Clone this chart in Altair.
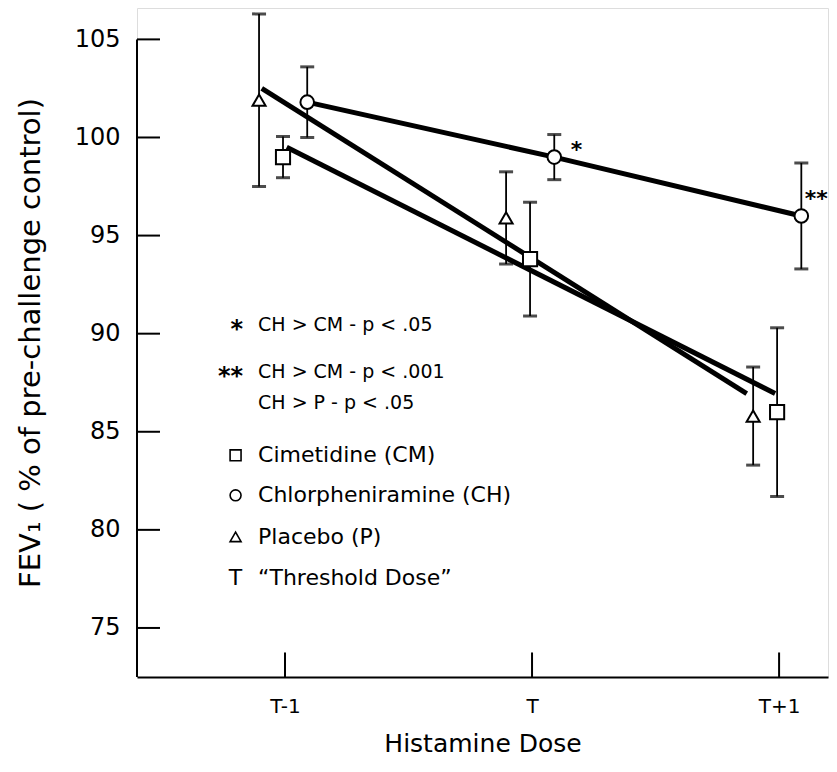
import altair as alt
import pandas as pd

# ---------------- data ----------------
doses = ["T-1", "T", "T+1"]
dose_pos = [0, 1, 2]

treatments = ["Cimetidine (CM)", "Chlorpheniramine (CH)", "Placebo (P)"]
shapes = ["square", "circle", "triangle-up"]
marker_sizes = [200, 170, 330]
x_offsets = [-0.008, 0.09, -0.105]

cim_mean = [99.0, 93.8, 86.0]
cim_err = [1.05, 2.9, 4.3]
chl_mean = [101.8, 99.0, 96.0]
chl_err = [1.8, 1.15, 2.7]
pla_mean = [101.9, 95.9, 85.8]
pla_err = [4.4, 2.35, 2.5]

# straight trend lines drawn for CM and P (start, end)
cim_line_x = [0.007, 1.984]
cim_line_y = [99.5, 86.95]
pla_line_x = [-0.094, 1.869]
pla_line_y = [102.5, 86.95]

# significance stars
star_text = ["*", "**"]
star_x = [1.18, 2.15]
star_y = [99.6, 97.1]

# key / notes
note_stars = ["*", "**"]
note_stars_y = [90.43, 88.05]
note_text = ["CH > CM - p < .05", "CH > CM - p < .001", "CH > P - p < .05",
             "Cimetidine  (CM)", "Chlorpheniramine  (CH)", "Placebo  (P)",
             "\u201cThreshold Dose\u201d"]
note_y = [90.43, 88.05, 86.45, 83.80, 81.76, 79.64, 77.53]
note_size = [19, 19, 19, 22, 22, 22, 22]
key_symbol_y = [83.80, 81.76, 79.64]
key_T_y = [77.53]

y_ticks = [75, 80, 85, 90, 95, 100, 105]
x_domain = [-0.599, 2.198]
y_domain = [72.5, 106.6]
FONT = "DejaVu Sans"

# ---------------- tables ----------------
means = [cim_mean, chl_mean, pla_mean]
errs = [cim_err, chl_err, pla_err]
rows = []
for t, off, m, e in zip(treatments, x_offsets, means, errs):
    for d, p, mv, ev in zip(doses, dose_pos, m, e):
        rows.append({"treatment": t, "dose": d, "x": p + off, "mean": mv,
                     "lo": mv - ev, "hi": mv + ev})
pts = pd.DataFrame(rows)

line_rows = []
for p, m in zip(dose_pos, chl_mean):
    line_rows.append({"series": "CH", "x": p + x_offsets[1], "y": m})
for xv, yv in zip(cim_line_x, cim_line_y):
    line_rows.append({"series": "CM", "x": xv, "y": yv})
for xv, yv in zip(pla_line_x, pla_line_y):
    line_rows.append({"series": "P", "x": xv, "y": yv})
lines_df = pd.DataFrame(line_rows)

xs = alt.Scale(domain=x_domain, nice=False, zero=False)
ys = alt.Scale(domain=y_domain, nice=False, zero=False)
shape_scale = alt.Scale(domain=treatments, range=shapes)
size_scale = alt.Scale(domain=treatments, range=marker_sizes)

label_expr = " : ".join(
    [f"datum.value == {p} ? '{d}'" for p, d in zip(dose_pos[:-1], doses[:-1])]
) + f" : '{doses[-1]}'"

x_axis = alt.Axis(values=dose_pos, labelExpr=label_expr, ticks=False, tickSize=0,
                  grid=False, domainColor="black", domainWidth=2,
                  labelFontSize=20, labelFont=FONT, labelColor="black",
                  labelBaseline="middle", labelPadding=29,
                  title="Histamine Dose", titleFontSize=25, titleFont=FONT,
                  titleFontWeight="normal", titleColor="black",
                  titleBaseline="middle", titleY=66)
y_axis = alt.Axis(values=y_ticks, ticks=False, tickSize=0, domain=False, grid=False,
                  labelFontSize=24, labelFont=FONT, labelColor="black",
                  labelPadding=17,
                  title="FEV\u2081 ( % of pre-challenge control)",
                  titleFontSize=29, titleFont=FONT, titleFontWeight="normal",
                  titleColor="black", titleAngle=-90, titleBaseline="middle",
                  titleAlign="center", titleX=-107, titleY=334.5)

base_lines = alt.Chart(lines_df).mark_line(color="black", strokeWidth=5).encode(
    x=alt.X("x:Q", scale=xs, axis=x_axis),
    y=alt.Y("y:Q", scale=ys, axis=y_axis),
    detail="series:N",
)

bars = alt.Chart(pts).mark_rule(color="black", strokeWidth=1.8).encode(
    x=alt.X("x:Q", scale=xs), y=alt.Y("lo:Q", scale=ys), y2="hi:Q")
cap_lo = alt.Chart(pts).mark_tick(color="black", orient="horizontal", size=14,
                                  thickness=3).encode(
    x=alt.X("x:Q", scale=xs), y=alt.Y("lo:Q", scale=ys))
cap_hi = alt.Chart(pts).mark_tick(color="black", orient="horizontal", size=14,
                                  thickness=3).encode(
    x=alt.X("x:Q", scale=xs), y=alt.Y("hi:Q", scale=ys))

points = alt.Chart(pts).mark_point(filled=True, fill="white", stroke="black",
                                   strokeWidth=2, opacity=1).encode(
    x=alt.X("x:Q", scale=xs), y=alt.Y("mean:Q", scale=ys),
    shape=alt.Shape("treatment:N", scale=shape_scale, legend=None),
    size=alt.Size("treatment:N", scale=size_scale, legend=None),
)

# manual axis pieces (ticks pointing inward, y axis line ends at 105)
yline_df = pd.DataFrame({"x": [x_domain[0]], "y": [y_domain[0]], "y2": [max(y_ticks)]})
yline = alt.Chart(yline_df).mark_rule(color="black", strokeWidth=2).encode(
    x=alt.X("x:Q", scale=xs), y=alt.Y("y:Q", scale=ys), y2="y2:Q")
ytick_df = pd.DataFrame({"y": y_ticks, "x": [x_domain[0]] * len(y_ticks),
                         "x2": [x_domain[0] + 0.093] * len(y_ticks)})
ytick = alt.Chart(ytick_df).mark_rule(color="black", strokeWidth=2).encode(
    y=alt.Y("y:Q", scale=ys), x=alt.X("x:Q", scale=xs), x2="x2:Q")
xtick_df = pd.DataFrame({"x": dose_pos, "y": [y_domain[0]] * 3, "y2": [73.75] * 3})
xtick = alt.Chart(xtick_df).mark_rule(color="black", strokeWidth=2).encode(
    x=alt.X("x:Q", scale=xs), y=alt.Y("y:Q", scale=ys), y2="y2:Q")

stars_df = pd.DataFrame({"x": star_x, "y": star_y, "t": star_text})
stars = alt.Chart(stars_df).mark_text(font=FONT, fontSize=22, fontWeight="bold",
                                      align="center", baseline="middle", dy=5).encode(
    x=alt.X("x:Q", scale=xs), y=alt.Y("y:Q", scale=ys), text="t:N")

notes_df = pd.DataFrame({"x": [-0.109] * len(note_text), "y": note_y,
                         "t": note_text, "s": note_size})
notes = alt.Chart(notes_df).mark_text(font=FONT, align="left", baseline="middle",
                                      color="black").encode(
    x=alt.X("x:Q", scale=xs), y=alt.Y("y:Q", scale=ys), text="t:N",
    size=alt.Size("s:Q", scale=None, legend=None))

nstar_df = pd.DataFrame({"x": [-0.170] * len(note_stars), "y": note_stars_y,
                         "t": note_stars})
nstars = alt.Chart(nstar_df).mark_text(font=FONT, align="right", baseline="middle",
                                       fontSize=24, fontWeight="bold",
                                       color="black", dy=5).encode(
    x=alt.X("x:Q", scale=xs), y=alt.Y("y:Q", scale=ys), text="t:N")

keyT_df = pd.DataFrame({"x": [-0.200], "y": key_T_y, "t": ["T"]})
keyT = alt.Chart(keyT_df).mark_text(font=FONT, align="center", baseline="middle",
                                    fontSize=22, color="black").encode(
    x=alt.X("x:Q", scale=xs), y=alt.Y("y:Q", scale=ys), text="t:N")

key_df = pd.DataFrame({"x": [-0.200] * 3, "y": key_symbol_y, "treatment": treatments})
key = alt.Chart(key_df).mark_point(filled=True, fill="white", stroke="black",
                                   strokeWidth=1.6, opacity=1, size=120).encode(
    x=alt.X("x:Q", scale=xs), y=alt.Y("y:Q", scale=ys),
    shape=alt.Shape("treatment:N", scale=shape_scale, legend=None),
)

chart = alt.layer(
    base_lines, bars, cap_lo, cap_hi, points, yline, ytick, xtick,
    stars, notes, nstars, keyT, key
).properties(
    width=691, height=669,
    autosize=alt.AutoSizeParams(type="none"),
    padding={"left": 129, "top": 0, "right": 1, "bottom": 80},
).configure_view(stroke=None).configure(font=FONT)

chart.save("out.html", embed_options={"renderer": "svg", "actions": False})
